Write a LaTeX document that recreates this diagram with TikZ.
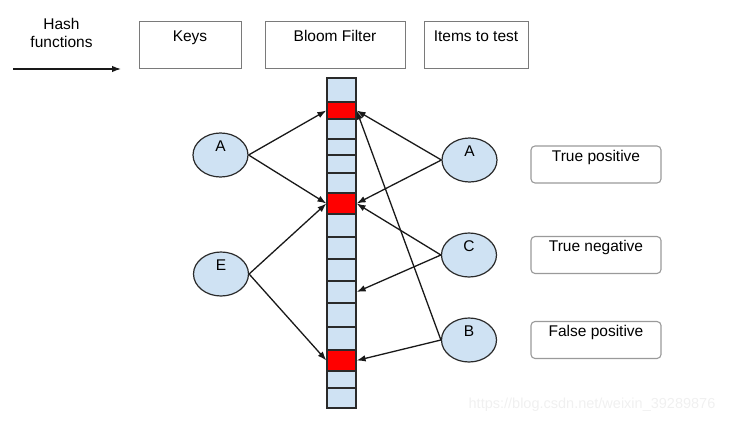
\documentclass[tikz,border=0pt]{standalone}
\usepackage{fontspec}
\setmainfont{Liberation Sans}
\usetikzlibrary{arrows.meta,shapes.geometric}
\definecolor{cellblue}{HTML}{CFE2F3}
\definecolor{framegray}{HTML}{7A7A7A}
\definecolor{resultgray}{HTML}{9A9A9A}
\definecolor{linegray}{HTML}{2A2A2A}

\begin{document}
\begin{tikzpicture}[x=1pt, y=-1pt,
		title/.style={draw=framegray, line width=1pt, inner sep=3pt, text height=17pt, text depth=24pt, font=\fontsize{15.5}{18}\selectfont},
		result/.style={draw=resultgray, line width=1.1pt, rounded corners=4pt, minimum width=130pt, inner sep=3pt, text height=12pt, text depth=19pt, font=\fontsize{15.5}{18}\selectfont},
		key/.style={ellipse, draw=linegray, line width=1.2pt, fill=cellblue, minimum width=55pt, minimum height=44pt, inner sep=0pt, text height=11pt, text depth=19pt, font=\fontsize{15.5}{18}\selectfont},
		cell/.style={draw=linegray, line width=1.2pt, minimum width=29pt, inner sep=0pt},
		arrow/.style={-{Latex[length=9pt,width=6.5pt]}, line width=1.3pt, draw=black!90}
		]
		
		\useasboundingbox (0,0) rectangle (738,425);
		
		% Headers
		\node[align=center, font=\fontsize{15.5}{18}\selectfont] (hash) at (61.5,33) {Hash\\functions};
		\coordinate (hashstart) at (13,69);
		\coordinate (hashend) at (121,69);
		\node[title, minimum width=102pt] (keys) at (190,45.5) {Keys};
		\node[title, minimum width=140pt] (bloom) at (335,45.5) {Bloom Filter};
		\node[title, minimum width=104pt] (items) at (476,45.5) {Items to test};
		
		% Bloom filter cells
		\foreach \ya/\yb/\col [count=\i] in {78/102/cellblue, 102/119/red, 119/139/cellblue, 139/155/cellblue,
			155/173/cellblue, 173/193/cellblue, 193/214/red, 214/237/cellblue, 237/259/cellblue, 259/281/cellblue,
			281/303/cellblue, 303/327/cellblue, 327/350/cellblue, 350/371/red, 371/388/cellblue, 388/408/cellblue}
			\node[cell, fill=\col, minimum height=\yb pt-\ya pt] (cell\i) at (341.5,{(\ya+\yb)/2}) {};
		
		% Keys and items
		\node[key] (keyA) at (220.5,155) {A};
		\node[key] (keyE) at (221,274) {E};
		\node[key] (itemA) at (469.5,160) {A};
		\node[key] (itemC) at (469,255) {C};
		\node[key] (itemB) at (469,340) {B};
		
		% Results
		\node[result] (tp) at (596,164.5) {True positive};
		\node[result] (tn) at (596,255) {True negative};
		\node[result] (fp) at (596,340) {False positive};
		
		% Arrows
		\draw[arrow] (hashstart) -- (hashend);
		\draw[arrow] (keyA.east) -- (cell2.west);
		\draw[arrow] (keyA.east) -- (cell7.west);
		\draw[arrow] (keyE.east) -- (cell7.west);
		\draw[arrow] (keyE.east) -- (cell14.west);
		\draw[arrow] (itemA.west) -- (cell2.east);
		\draw[arrow] (itemA.west) -- (cell7.east);
		\draw[arrow] (itemC.west) -- (cell7.east);
		\draw[arrow] (itemC.west) -- (cell11.east);
		\draw[arrow] (itemB.west) -- (cell14.east);
		\draw[arrow] (itemB.west) -- (cell2.east);
		
		% Watermark
		\node[text=gray!12, font=\fontsize{14.5}{17}\selectfont] (mark) at (592,405) {https://blog.csdn.net/weixin\_39289876};
		
	\end{tikzpicture}
\end{document}
